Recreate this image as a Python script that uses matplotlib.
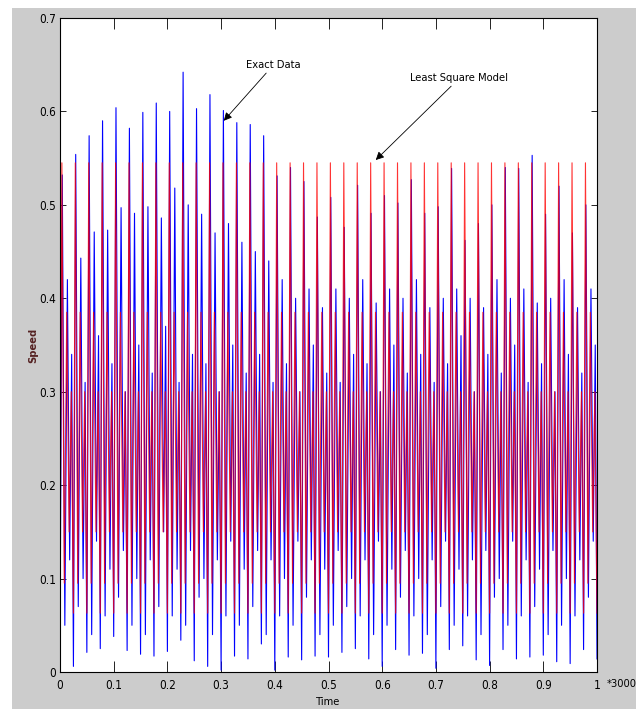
import numpy as np
import matplotlib
matplotlib.use("Agg")
import matplotlib.pyplot as plt
from matplotlib.patches import Rectangle

plt.rcParams['font.family'] = ['DejaVu Sans']
plt.rcParams['font.stretch'] = 'condensed'

# one oscillation cycle every 0.025 (x 3000 samples), 40 cycles on the axis
period = 0.025
n_cycles = 40

# least square model: same shape every cycle
red_phase = [0.0, 0.14, 0.32, 0.50, 0.68, 0.84]
red_vals = [0.063, 0.545, 0.095, 0.385, 0.150, 0.300]

# exact data, read per cycle
blue_phase = [0.0, 0.17, 0.36, 0.55, 0.72, 0.87]
blue_peak = [0.532, 0.554, 0.574, 0.590, 0.604, 0.582, 0.599, 0.609, 0.600, 0.642,
             0.603, 0.618, 0.601, 0.588, 0.586, 0.574, 0.531, 0.540, 0.525, 0.487,
             0.508, 0.476, 0.521, 0.491, 0.510, 0.502, 0.527, 0.491, 0.498, 0.539,
             0.462, 0.480, 0.500, 0.540, 0.539, 0.553, 0.490, 0.520, 0.470, 0.500]
blue_trough = [0.025, 0.006, 0.021, 0.025, 0.038, 0.023, 0.019, 0.017, 0.022, 0.034,
               0.012, 0.006, 0.002, 0.017, 0.014, 0.030, 0.002, 0.016, 0.013, 0.017,
               0.016, 0.021, 0.025, 0.014, 0.006, 0.024, 0.018, 0.020, 0.004, 0.024,
               0.028, 0.013, 0.007, 0.024, 0.014, 0.016, 0.018, 0.011, 0.009, 0.024, 0.014]
blue_low2 = [0.05, 0.07, 0.04, 0.06, 0.08, 0.05, 0.04, 0.07, 0.06, 0.05,
             0.08, 0.04, 0.06, 0.05, 0.07, 0.04, 0.06, 0.05, 0.08, 0.04,
             0.05, 0.07, 0.06, 0.04, 0.05, 0.08, 0.06, 0.04, 0.07, 0.05,
             0.06, 0.04, 0.08, 0.05, 0.06, 0.07, 0.04, 0.05, 0.06, 0.08]
blue_mid = [0.420, 0.443, 0.471, 0.473, 0.497, 0.491, 0.498, 0.486, 0.518, 0.500,
            0.490, 0.470, 0.480, 0.460, 0.450, 0.440, 0.420, 0.400, 0.410, 0.390,
            0.410, 0.400, 0.420, 0.395, 0.410, 0.400, 0.420, 0.390, 0.400, 0.410,
            0.400, 0.390, 0.420, 0.400, 0.410, 0.395, 0.400, 0.420, 0.390, 0.410]
blue_low3 = [0.12, 0.10, 0.14, 0.11, 0.13, 0.10, 0.12, 0.15, 0.11, 0.13,
             0.10, 0.12, 0.14, 0.11, 0.13, 0.12, 0.10, 0.14, 0.12, 0.11,
             0.13, 0.10, 0.12, 0.14, 0.11, 0.13, 0.10, 0.12, 0.14, 0.11,
             0.12, 0.13, 0.10, 0.14, 0.12, 0.11, 0.13, 0.10, 0.12, 0.14]
blue_top3 = [0.34, 0.31, 0.36, 0.33, 0.30, 0.35, 0.32, 0.37, 0.31, 0.34,
             0.33, 0.30, 0.35, 0.32, 0.34, 0.31, 0.33, 0.30, 0.35, 0.32,
             0.31, 0.34, 0.33, 0.30, 0.35, 0.32, 0.34, 0.31, 0.33, 0.36,
             0.30, 0.34, 0.32, 0.35, 0.31, 0.33, 0.30, 0.34, 0.32, 0.35]

t_red, y_red, t_blue, y_blue = [], [], [], []
for k in range(n_cycles):
    for ph, v in zip(red_phase, red_vals):
        t_red.append((k + ph) * period)
        y_red.append(v)
    bv = [blue_trough[k], blue_peak[k], blue_low2[k], blue_mid[k], blue_low3[k], blue_top3[k]]
    for ph, v in zip(blue_phase, bv):
        t_blue.append((k + ph) * period)
        y_blue.append(v)
t_red.append(n_cycles * period)
y_red.append(red_vals[0])
t_blue.append(n_cycles * period)
y_blue.append(blue_trough[-1])

fig = plt.figure(figsize=(6.4, 7.09), dpi=100, facecolor='white')
fig.patches.append(Rectangle((12 / 640, 0), 624 / 640, 701 / 709, transform=fig.transFigure,
                             facecolor='#cccccc', edgecolor='none', zorder=-10))
ax = fig.add_axes([60 / 640, 37 / 709, 537 / 640, 654 / 709])

ax.plot(t_blue, y_blue, color='#0000ff', lw=0.8)
ax.plot(t_red, y_red, color='#ff0000', lw=0.8, alpha=0.8)

ax.set_xlim(0, 1)
ax.set_ylim(0, 0.7)
ax.set_xticks(np.arange(0, 1.01, 0.1))
ax.set_xticklabels(['0', '0.1', '0.2', '0.3', '0.4', '0.5', '0.6', '0.7', '0.8', '0.9', '1'])
ax.set_yticks(np.arange(0, 0.71, 0.1))
ax.set_yticklabels(['0', '0.1', '0.2', '0.3', '0.4', '0.5', '0.6', '0.7'])
ax.tick_params(axis='x', direction='in', length=8, width=0.6, top=True, labelsize=8.5, pad=5)
ax.tick_params(axis='y', direction='in', length=4, width=0.6, right=True, labelsize=8.5, pad=3)
for s in ax.spines.values():
    s.set_linewidth(0.8)

ax.set_xlabel('Time', fontsize=8)
ax.xaxis.set_label_coords(0.5, -0.038)
ax.set_ylabel('Speed', fontsize=8, color='#552222', fontweight='bold')
ax.yaxis.set_label_coords(-0.041, 0.5)
ax.text(1.018, -0.01, '*3000', transform=ax.get_xaxis_transform(), fontsize=8, va='top', ha='left')

ax.annotate('Exact Data', xy=(0.305, 0.590), xytext=(0.346, 0.644), fontsize=8,
            ha='left', va='bottom',
            arrowprops=dict(arrowstyle='-|>', color='k', lw=0.6, mutation_scale=12,
                            shrinkA=0, shrinkB=0))
ax.annotate('Least Square Model', xy=(0.588, 0.548), xytext=(0.652, 0.630), fontsize=8,
            ha='left', va='bottom',
            arrowprops=dict(arrowstyle='-|>', color='k', lw=0.6, mutation_scale=12,
                            shrinkA=0, shrinkB=0))

fig.savefig('out.png', dpi=100, facecolor=fig.get_facecolor())
